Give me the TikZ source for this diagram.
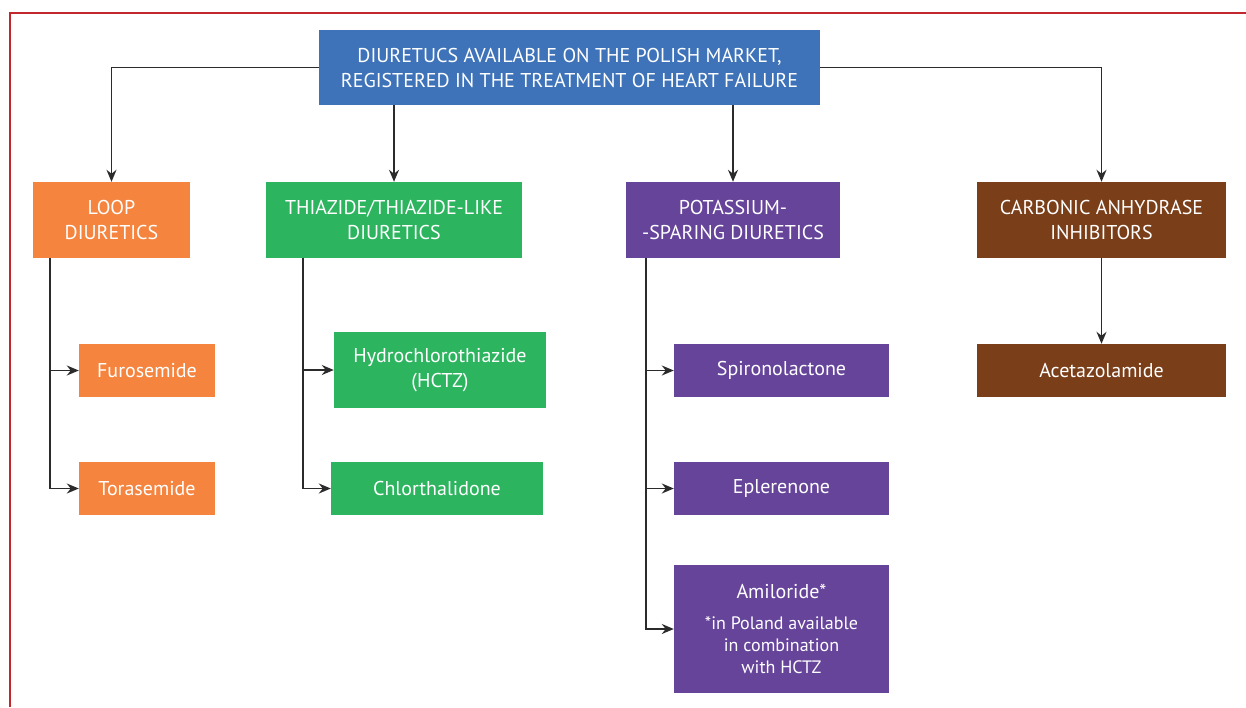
\documentclass[tikz,border=0pt]{standalone}
\usepackage{fontspec}
\setmainfont{PT Sans}
\usetikzlibrary{arrows.meta}
\definecolor{cblue}{HTML}{3E73B9}
\definecolor{corange}{HTML}{F5843E}
\definecolor{cgreen}{HTML}{2DB45F}
\definecolor{cpurple}{HTML}{66449A}
\definecolor{cbrown}{HTML}{7A3E19}
\definecolor{cred}{HTML}{C1272D}
\definecolor{cline}{HTML}{2B2B2B}
\tikzset{
  box/.style={fill=#1, text=white, inner sep=2pt, align=center, font=\fontsize{20}{25}\selectfont},
  arr/.style={draw=cline, line width=1.6pt, -{Stealth[length=12pt,width=10pt]}}
}
\newcommand{\smalltxt}{\fontsize{18}{22}\selectfont}
\begin{document}
\begin{tikzpicture}[x=1pt,y=-1pt]
\useasboundingbox (0,0) rectangle (1246,707);
\draw[cred, line width=1.5pt] (10,707) -- (10,13) -- (1246,13);

\node[box=cblue, minimum width=501, minimum height=75] (top) at (569.5,67.5) {DIURETUCS AVAILABLE ON THE POLISH MARKET,\\REGISTERED IN THE TREATMENT OF HEART FAILURE};

\node[box=corange, minimum width=157, minimum height=76] (loop) at (111.5,220) {LOOP\\DIURETICS};
\node[box=cgreen, minimum width=256, minimum height=76] (thia) at (394,220) {THIAZIDE/THIAZIDE-LIKE\\DIURETICS};
\node[box=cpurple, minimum width=214, minimum height=76] (pot) at (733,220) {POTASSIUM-\\-SPARING DIURETICS};
\node[box=cbrown, minimum width=249, minimum height=76] (carb) at (1101.5,220) {CARBONIC ANHYDRASE\\INHIBITORS};

\node[box=corange, minimum width=136, minimum height=53] (furo) at (147,370.5) {Furosemide};
\node[box=corange, minimum width=136, minimum height=53] (tora) at (147,488.5) {Torasemide};
\node[box=cgreen, minimum width=212, minimum height=76] (hctz) at (440,370) {Hydrochlorothiazide\\(HCTZ)};
\node[box=cgreen, minimum width=212, minimum height=53] (chlor) at (437,488.5) {Chlorthalidone};
\node[box=cpurple, minimum width=215, minimum height=53] (spiro) at (781.5,370.5) {Spironolactone};
\node[box=cpurple, minimum width=215, minimum height=53] (eple) at (781.5,488.5) {Eplerenone};
\node[box=cpurple, minimum width=215, minimum height=128, font=\fontsize{20}{22}\selectfont] (amil) at (781.5,629) {Amiloride*\\[9pt]{\smalltxt *in Poland available}\\{\smalltxt in combination}\\{\smalltxt with HCTZ}};
\node[box=cbrown, minimum width=249, minimum height=53] (acet) at (1101.5,370.5) {Acetazolamide};

\draw[arr] (top.west) -| (loop.north);
\draw[arr] (top.east) -| (carb.north);
\draw[arr] (top.south -| thia.north) -- (thia.north);
\draw[arr] (top.south -| pot.north) -- (pot.north);

\draw[arr] ([xshift=17pt]loop.south west) |- (furo.west);
\draw[arr] ([xshift=17pt]loop.south west) |- (tora.west);
\draw[arr] ([xshift=37pt]thia.south west) |- (hctz.west);
\draw[arr] ([xshift=37pt]thia.south west) |- (chlor.west);
\draw[arr] ([xshift=20pt]pot.south west) |- (spiro.west);
\draw[arr] ([xshift=20pt]pot.south west) |- (eple.west);
\draw[arr] ([xshift=20pt]pot.south west) |- (amil.west);
\draw[arr] (carb.south) -- (acet.north);
\end{tikzpicture}
\end{document}
